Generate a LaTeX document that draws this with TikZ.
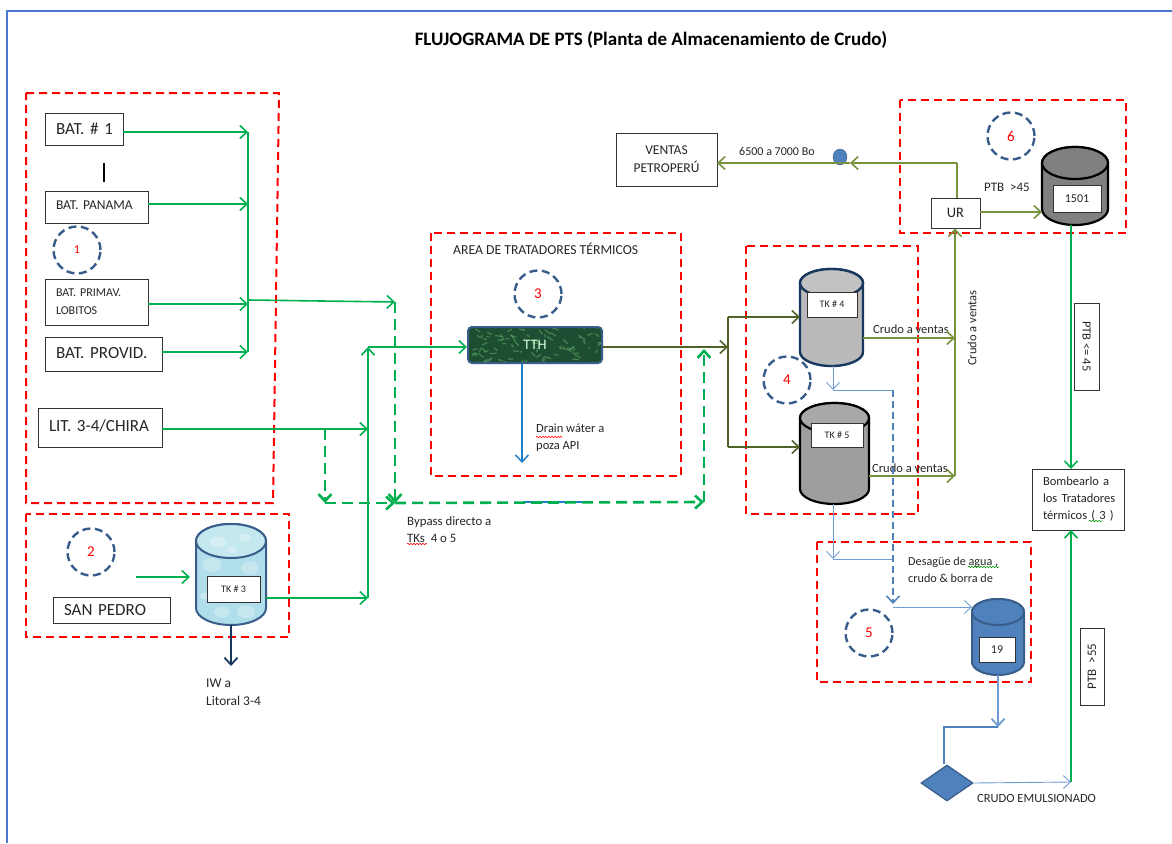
\documentclass[tikz,border=0pt]{standalone}
\usepackage{fontspec}
\setmainfont{Carlito}
\usetikzlibrary{arrows.meta,positioning,shapes.geometric,decorations.pathmorphing}
\definecolor{redbox}{HTML}{FF0000}
\definecolor{ringblue}{HTML}{385D8A}
\definecolor{linegreen}{HTML}{00B050}
\definecolor{lineolive}{HTML}{76933C}
\definecolor{darkolive}{HTML}{4F6228}
\definecolor{tankblue}{HTML}{4F81BD}
\definecolor{thinblue}{HTML}{6F9BD6}
\definecolor{navyblue}{HTML}{17375E}
\definecolor{drainblue}{HTML}{1F7FC8}
\definecolor{framblue}{HTML}{4A78CE}
\definecolor{tthgreen}{HTML}{1E4E32}
\definecolor{watertop}{HTML}{C4E8F0}
\definecolor{waterbody}{HTML}{B0DEEA}
\newcommand{\fs}[1]{\fontsize{#1}{#1}\selectfont}
\newcommand{\tankshape}[7]{%
  \draw[draw=#4,fill=#5,line width=#7] ([yshift=-#3]#1.north west) -- ([yshift=#3]#1.south west)
    arc[start angle=180,end angle=360,x radius=#2,y radius=#3] -- ([yshift=-#3]#1.north east)
    arc[start angle=0,end angle=180,x radius=#2,y radius=#3] -- cycle;
  \draw[draw=#4,fill=#6,line width=#7] ([yshift=-#3]#1.north) ellipse[x radius=#2,y radius=#3];}

\begin{document}
\begin{tikzpicture}[x=1pt,y=-1pt,>={Straight Barb[length=7pt,width=13pt]},
    area/.style={draw=redbox,line width=2pt,dash pattern=on 8pt off 5pt},
    ring/.style={circle,draw=ringblue,line width=2.4pt,dash pattern=on 8pt off 4.5pt,minimum size=47pt,text=red,font=\fs{15}},
    lbl/.style={draw=black!80,line width=0.9pt,fill=white,inner sep=0pt,align=center,text=black!85},
    src/.style={lbl,align=left,inner xsep=11pt},
    txt/.style={inner sep=0pt,align=left,anchor=west,text=black!85,font=\fontsize{12.5}{17}\selectfont},
    tank/.style={rectangle,inner sep=0pt,outer sep=0pt},
    squiggle/.style={line width=0.6pt,decorate,decoration={snake,amplitude=0.7pt,segment length=3pt}},
    greenline/.style={color=linegreen,line width=1.6pt},
    bypassline/.style={color=linegreen,line width=2.6pt,dash pattern=on 11pt off 6pt},
    oliveline/.style={color=lineolive,line width=1.6pt},
    doliveline/.style={color=darkolive,line width=1.6pt},
    thinline/.style={color=thinblue,line width=0.9pt},
    bluedash/.style={color=tankblue,line width=1.5pt,dash pattern=on 7pt off 4pt}]
    \useasboundingbox (0,0) rectangle (1172,843);
    \coordinate (frametop) at (1172,11);
    \coordinate (framecorner) at (7,11);
    \coordinate (framebottom) at (7,843);
    \draw[draw=framblue,line width=1.7pt] (frametop) -- (framecorner) -- (framebottom);
    \node[font=\bfseries\fs{19},inner sep=0pt] (title) at (651,40) {FLUJOGRAMA DE PTS (Planta de Almacenamiento de Crudo)};

    % red areas
    \draw[area] (26,93) -- (279,93) -- (273,503) -- (26,503) -- cycle;
    \draw[area] (26,514) rectangle (289,637);
    \draw[area] (431,233) rectangle (681,476);
    \draw[area] (746,246) rectangle (918,514);
    \draw[area] (817,542) rectangle (1031,682);
    \draw[area] (900,100) rectangle (1126,233);

    % rings
    \node[ring] (ring1) at (77,250) {\fs{12}1};
    \node[ring] (ring2) at (91,552) {2};
    \node[ring] (ring3) at (538,294) {3};
    \node[ring] (ring4) at (787,380) {4};
    \node[ring] (ring5) at (869,633) {5};
    \node[ring] (ring6) at (1011,136) {6};

    % sources
    \node[src,text width=56pt,minimum height=32pt,font=\fs{17}] (bat1) at (84,129) {\mbox{BAT. \# 1}};
    \node[src,text width=81pt,minimum height=32pt,font=\fs{13.5}] (panama) at (96.5,207) {\raisebox{3pt}{BAT. PANAMA}};
    \node[src,text width=81pt,minimum height=46pt,font=\fontsize{12}{18}\selectfont] (primav) at (96.5,302) {\raisebox{-3pt}{BAT. PRIMAV.}\\\raisebox{-3pt}{LOBITOS}};
    \node[src,text width=95pt,minimum height=34pt,font=\fs{17}] (provid) at (103.5,354) {\raisebox{2pt}{BAT. PROVID.}};
    \node[src,text width=102pt,minimum height=39pt,font=\fs{17}] (chira) at (100,427.5) {\raisebox{4pt}{LIT. 3-4/CHIRA}};
    \node[src,text width=95pt,minimum height=26pt,font=\fs{17}] (sanpedro) at (111.5,610) {SAN PEDRO};
    \coordinate (bartop) at (104,163);
    \coordinate (barbot) at (104,182);
    \draw[black,line width=1.4pt] (bartop) -- (barbot);

    % tanks
    \node[tank,minimum width=70pt,minimum height=101pt] (tk3) at (231,574.5) {};
    \node[tank,minimum width=63pt,minimum height=97pt] (tk4) at (831.5,317.5) {};
    \node[tank,minimum width=69pt,minimum height=101pt] (tk5) at (834.5,453.5) {};
    \node[tank,minimum width=52pt,minimum height=76pt] (tk19) at (998,637) {};
    \node[tank,minimum width=66pt,minimum height=78pt] (tk1501) at (1075,186) {};
    \tankshape{tk3}{35pt}{17pt}{ringblue}{waterbody}{watertop}{2pt}
    \foreach \bx/\by/\br in {218/542/8,245/538/6,232/550/5,212/565/10,250/568/9,222/612/8,246/612/9,205/596/5}
      \fill[white,opacity=.3] (\bx,\by) ellipse[x radius=\br pt,y radius=0.7*\br pt];
    \tankshape{tk4}{31.5pt}{14pt}{navyblue}{black!27}{black!24}{2.4pt}
    \tankshape{tk5}{34.5pt}{15pt}{black}{black!38}{black!34}{2.2pt}
    \tankshape{tk19}{26pt}{13pt}{ringblue}{tankblue}{tankblue}{2pt}
    \tankshape{tk1501}{33pt}{16pt}{black}{black!50}{black!50}{2.2pt}
    \node[lbl,minimum width=53pt,minimum height=26pt,font=\fs{10}] (tk3tag) at (233.5,589) {TK \# 3};
    \node[lbl,minimum width=50pt,minimum height=25pt,font=\fs{10}] (tk4tag) at (832,304.5) {TK \# 4};
    \node[lbl,minimum width=52pt,minimum height=24pt,font=\fs{10}] (tk5tag) at (837,435) {TK \# 5};
    \node[lbl,minimum width=36pt,minimum height=25pt,font=\fs{12}] (tk19tag) at (997,649.5) {19};
    \node[lbl,minimum width=48pt,minimum height=27pt,font=\fs{12}] (tk1501tag) at (1077,198.5) {1501};

    % treaters and the rest
    \node[rounded corners=4pt,draw=ringblue,line width=2pt,fill=tthgreen,text=white!85!green,minimum width=134pt,minimum height=36pt,inner sep=0pt,font=\fs{14.5},
      path picture={\foreach \mi in {1,...,90}
        \draw[green!40!white,opacity=.3,line width=1.2pt] ({(rnd-.5)*134},{(rnd-.5)*36}) -- ++({rnd*14-7},{rnd*10-5});
        \node[text=white!85!green] at (0,0) {TTH};}] (tth) at (535,345) {};
    \node[lbl,minimum width=101pt,minimum height=53pt,font=\fontsize{13.5}{18}\selectfont] (ventas) at (666.5,159.5) {VENTAS\\PETROPERÚ};
    \node[lbl,minimum width=49pt,minimum height=30pt,font=\fs{14.5}] (ur) at (955.5,213) {UR};
    \node[src,text width=70pt,minimum height=61pt,font=\fontsize{12.5}{17}\selectfont] (bomba) at (1078,499.5) {\mbox{Bombearlo a}\\\mbox{los Tratadores}\\\mbox{térmicos ( 3 )}};
    \node[lbl,minimum width=87pt,minimum height=25pt,rotate=-90,font=\fs{12.5}] (ptb45) at (1086.5,346.5) {PTB <= 45};
    \node[lbl,minimum width=77pt,minimum height=24pt,rotate=90,font=\fs{13}] (ptb55) at (1092,666.5) {PTB\ \ >55};
    \node[diamond,draw=ringblue,line width=1.2pt,fill=tankblue,minimum width=52pt,minimum height=36pt,inner sep=0pt] (emul) at (947,783) {};
    \node[ellipse,draw=ringblue,fill=tankblue,minimum width=14pt,minimum height=16pt,inner sep=0pt] (dot) at (840,157) {};

    % texts
    \node[txt,font=\fs{13.7}] (areatxt) at (453,249) {AREA DE TRATADORES TÉRMICOS};
    \node[txt] (draintxt) at (536,438) {Drain wáter a\\poza API};
    \node[txt,font=\fontsize{12.8}{17}\selectfont] (bypasstxt) at (407,530) {Bypass directo a\\TKs\ \ 4 o 5};
    \node[txt,font=\fontsize{13.4}{18}\selectfont] (iwtxt) at (206,692) {IW a\\Litoral 3-4};
    \node[txt,font=\fs{12}] (bbltxt) at (739,151) {6500 a 7000 Bo};
    \node[txt,font=\fs{13}] (ptbtxt) at (984,187) {PTB\ \ >45};
    \node[txt] (venta4) at (873,329) {Crudo a ventas};
    \node[txt] (venta5) at (872,468) {Crudo a ventas};
    \node[txt,anchor=center,rotate=90] (ventaup) at (972,328) {Crudo a ventas};
    \node[txt,font=\fontsize{12.2}{17}\selectfont] (desague) at (908,569.5) {Desagüe de agua ,\\crudo \& borra de};
    \node[txt] (emultxt) at (977,798) {CRUDO EMULSIONADO};
    \draw[squiggle,red] (536,437) -- (562,437);
    \draw[squiggle,red] (407,544) -- (427,544);
    \draw[squiggle,green!60!black] (968,567) -- (999,567);
    \draw[squiggle,green!60!black] (1089,521) -- (1102,521);

    % junctions
    \coordinate (mantop) at (248,132);
    \coordinate (manpan) at (248,204);
    \coordinate (manpri) at (248,304);
    \coordinate (manbot) at (248,352);
    \coordinate (manout) at (248,300);
    \coordinate (bypass1) at (395,302);
    \coordinate (bypass2) at (395,503);
    \coordinate (chiraT) at (368,429);
    \coordinate (chiraD) at (325,429);
    \coordinate (bypass0) at (325,503);
    \coordinate (bypass3) at (704,502);
    \coordinate (bypass4) at (704,349);
    \coordinate (risetop) at (368,347);
    \coordinate (risebot) at (368,598);
    \coordinate (pedrofrom) at (136,577);
    \coordinate (pedroto) at (190,577);
    \coordinate (iwend) at (231,666);
    \coordinate (drainend) at (522,463);
    \coordinate (drainfrom) at (522,364);
    \coordinate (tthout) at (728,347);
    \coordinate (mantk4) at (728,317);
    \coordinate (mantk5) at (728,447);
    \coordinate (in5) at (800,447);
    \coordinate (out4) at (863,338);
    \coordinate (out5) at (869,476);
    \coordinate (sale4) at (955,338);
    \coordinate (sale5) at (955,476);
    \coordinate (urturn) at (957,163);
    \coordinate (dotarrow) at (850,163);
    \coordinate (ventaend) at (717,163);
    \coordinate (in1501) at (1042,212);
    \coordinate (from1501) at (1071,225);
    \coordinate (to3top) at (1071,469);
    \coordinate (to3bot) at (1071,530);
    \coordinate (emulend) at (1071,782);
    \coordinate (drain4) at (833,366);
    \coordinate (turn4) at (833,390);
    \coordinate (cross4) at (893,390);
    \coordinate (cross5) at (893,559);
    \coordinate (drain5) at (833,504);
    \coordinate (turn5) at (833,559);
    \coordinate (dashend) at (893,604);
    \coordinate (dashout) at (893,607);
    \coordinate (in19) at (972,607);
    \coordinate (from19) at (998,675);
    \coordinate (down19) at (998,727);
    \coordinate (left19) at (944,727);
    \coordinate (blue1) at (523,502);
    \coordinate (blue2) at (592,502);

    % feed lines
    \draw[drainblue,line width=1.3pt] (blue1) -- (blue2);
    \path[->,greenline]
    (bat1.east |- mantop) edge (mantop)
    (panama.east |- manpan) edge (manpan)
    (primav.east |- manpri) edge (manpri)
    (provid.east |- manbot) edge (manbot)
    (manout) edge (bypass1)
    (chira.east |- chiraT) edge (chiraT)
    (pedrofrom) edge (pedroto)
    (tk3.east |- risebot) edge (risebot)
    (risebot) edge (risetop)
    (risetop) edge (tth.west |- risetop)
    (from1501) edge (to3top)
    (emulend) edge (to3bot)
    ;
    \draw[greenline] (mantop) -- (manbot);
    \path[->,bypassline]
    (bypass1) edge (bypass2)
    (chiraD) edge (bypass0)
    (bypass0) edge (bypass2)
    (bypass2) edge (bypass3)
    (bypass3) edge (bypass4)
    ;

    % tanks out
    \path[->,doliveline]
    (tth.east |- tthout) edge (tthout)
    (mantk4) edge (tk4.west |- mantk4)
    (mantk5) edge (in5)
    ;
    \draw[doliveline] (mantk4) -- (mantk5);
    \path[->,oliveline]
    (out4) edge (sale4)
    (out5) edge (sale5)
    (sale5) edge (sale5 |- ur.south)
    (urturn) edge (dotarrow)
    (dotarrow) edge (ventaend)
    (ur.east |- in1501) edge (in1501)
    ;
    \draw[oliveline] (ur.north -| urturn) -- (urturn);

    % water lines
    \path[->,color=navyblue,line width=1.8pt] (tk3.south) edge (iwend);
    \path[->,color=drainblue,line width=1.5pt] (drainfrom) edge (drainend);
    \path[->,thinline]
    (drain4) edge (turn4)
    (drain5) edge (turn5)
    (dashout) edge (in19)
    (emul.east) edge (emulend)
    ;
    \draw[thinline] (turn4) -- (cross4);
    \draw[thinline] (turn5) -- (cross5);
    \path[->,bluedash] (cross4) edge (dashend);
    \path[->,color=thinblue,line width=1.8pt] (from19) edge (down19);
    \draw[tankblue,line width=1.1pt] (down19) -- (left19) -- (left19 |- emul.north);
\end{tikzpicture}
\end{document}
